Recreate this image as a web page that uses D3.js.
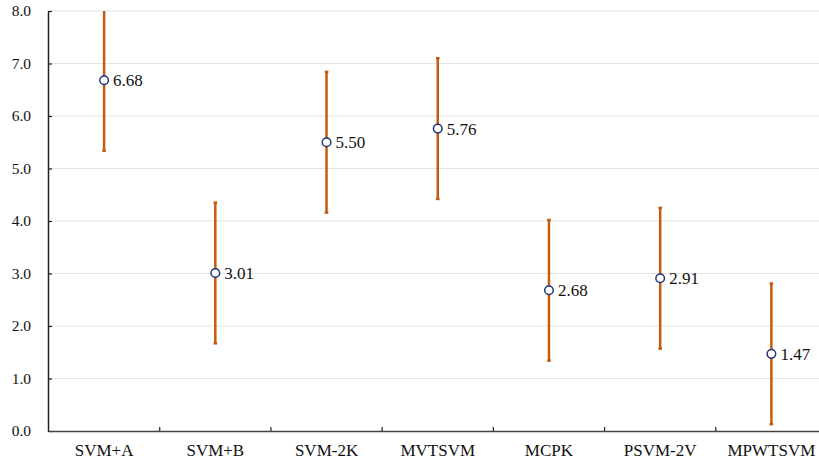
<!DOCTYPE html>
<html><head><meta charset="utf-8">
<script src="https://cdn.jsdelivr.net/npm/d3@7"></script>
<style>body{margin:0;background:#fff}svg{display:block}
svg text{font-family:"Liberation Serif","Times New Roman",Times,serif}</style>
</head><body>
<svg id="c" width="819" height="461"></svg>
<script>
const categories = ["SVM+A","SVM+B","SVM-2K","MVTSVM","MCPK","PSVM-2V","MPWTSVM"];
const means = [6.68, 3.01, 5.50, 5.76, 2.68, 2.91, 1.47];
const errors = [1.34, 1.34, 1.34, 1.34, 1.34, 1.34, 1.34];
const yTicks = [0,1,2,3,4,5,6,7,8];

const svg = d3.select("#c");
const W = 819, H = 461;
const x = d3.scaleBand().domain(categories).range([48.5, 827]);
const y = d3.scaleLinear().domain([0,8]).range([431, 11]);

// gridlines
svg.append("g").selectAll("line").data(yTicks.filter(d=>d>0)).join("line")
  .attr("x1", 48).attr("x2", W)
  .attr("y1", d=>y(d)).attr("y2", d=>y(d))
  .attr("stroke", "#e3e3e3").attr("stroke-width", 1);

// y axis
const ya = svg.append("g").attr("transform", `translate(48,0)`)
  .call(d3.axisLeft(y).tickValues(yTicks).tickFormat(d3.format(".1f")).tickSizeInner(-4).tickSizeOuter(0).tickPadding(17));
ya.select(".domain").attr("stroke", "#222").attr("stroke-width", 1.5);
ya.selectAll(".tick line").attr("stroke", "#222").attr("stroke-width", 1.2);
ya.selectAll("text").attr("font-size", 15.5).attr("fill", "#111");

// x axis
const xa = svg.append("g").attr("transform", `translate(0,${y(0)})`)
  .call(d3.axisBottom(x).tickSize(0).tickPadding(13));
xa.select(".domain").attr("stroke", "#444").attr("stroke-width", 1.5);
xa.selectAll("text").attr("font-size", 17).attr("fill", "#111");
// boundary ticks between categories (inward)
svg.append("g").selectAll("line").data(categories.slice(1)).join("line")
  .attr("x1", d=>x(d)).attr("x2", d=>x(d))
  .attr("y1", y(0)).attr("y2", y(0) - 4)
  .attr("stroke", "#222").attr("stroke-width", 1.2);

const data = categories.map((c,i)=>({c, v:means[i], e:errors[i]}));
const cx = d => x(d.c) + x.bandwidth()/2;
const clampTop = v => Math.min(v, 8);

const eb = svg.append("g");
eb.selectAll("line.bar").data(data).join("line").attr("class","bar")
  .attr("x1", cx).attr("x2", cx)
  .attr("y1", d=>y(d.v - d.e)).attr("y2", d=>y(clampTop(d.v + d.e)))
  .attr("stroke", "#C55A11").attr("stroke-width", 2.5);
eb.selectAll("line.capb").data(data).join("line").attr("class","capb")
  .attr("x1", d=>cx(d)-1.8).attr("x2", d=>cx(d)+1.8)
  .attr("y1", d=>y(d.v - d.e)).attr("y2", d=>y(d.v - d.e))
  .attr("stroke", "#C55A11").attr("stroke-width", 2.5);
eb.selectAll("line.capt").data(data.filter(d=>d.v + d.e <= 8)).join("line").attr("class","capt")
  .attr("x1", d=>cx(d)-1.8).attr("x2", d=>cx(d)+1.8)
  .attr("y1", d=>y(d.v + d.e)).attr("y2", d=>y(d.v + d.e))
  .attr("stroke", "#C55A11").attr("stroke-width", 2.5);

svg.append("g").selectAll("circle").data(data).join("circle")
  .attr("cx", cx).attr("cy", d=>y(d.v)).attr("r", 4.3)
  .attr("fill", "#fff").attr("stroke", "#1F3478").attr("stroke-width", 1.5);

svg.append("g").selectAll("text").data(data).join("text")
  .attr("x", d=>cx(d) + 9).attr("y", d=>y(d.v)).attr("dy", "0.35em")
  .attr("font-size", 17).attr("fill", "#111")
  .text(d=>d3.format(".2f")(d.v));
</script>
</body></html>
